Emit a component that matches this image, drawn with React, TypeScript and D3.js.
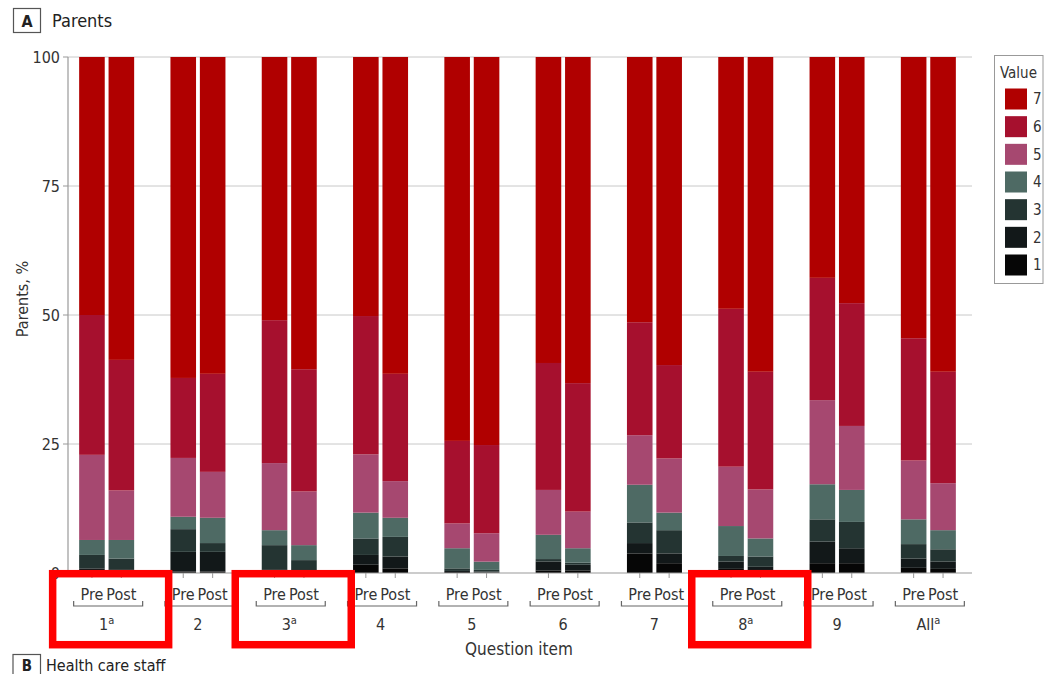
import React from "react";
import * as d3 from "d3";

const items = ["1", "2", "3", "4", "5", "6", "7", "8", "9", "All"];
const itemFootnote = ["a", "", "a", "", "", "", "", "a", "", "a"];
const phases = ["Pre", "Post"];
const levels = ["1", "2", "3", "4", "5", "6", "7"];
const highlighted = ["1", "3", "8"];
const yTicks = [0, 25, 50, 75, 100];

// Share of parents (%) giving each response value; order: 1 Pre, 1 Post, 2 Pre, 2 Post, ... All Pre, All Post
const value1 = [0.3, 0.2, 0.3, 0.3, 0.2, 0.1, 1.6, 0.9, 0.2, 0.1, 0.5, 0.5, 3.8, 1.9, 0.8, 0.4, 1.9, 1.9, 1.0, 0.8];
const value2 = [0.6, 0.4, 3.8, 3.8, 0.4, 0.2, 1.9, 2.3, 0.2, 0.2, 1.7, 1.1, 2.0, 1.9, 1.4, 0.8, 4.2, 2.9, 1.8, 1.4];
const value3 = [2.6, 2.2, 4.4, 1.7, 4.8, 2.2, 3.2, 3.8, 0.5, 0.3, 0.5, 0.4, 4.0, 4.5, 1.1, 2.0, 4.3, 5.1, 2.8, 2.4];
const value4 = [2.9, 3.6, 2.4, 4.9, 2.9, 2.9, 5.0, 3.7, 3.9, 1.6, 4.7, 2.8, 7.3, 3.4, 5.8, 3.5, 6.8, 6.2, 4.8, 3.7];
const value5 = [16.5, 9.6, 11.4, 8.9, 13.0, 10.4, 11.3, 7.1, 4.8, 5.5, 8.7, 7.1, 9.6, 10.5, 11.5, 9.5, 16.3, 12.4, 11.4, 9.1];
const value6 = [27.1, 25.3, 15.5, 19.0, 27.7, 23.7, 26.8, 20.8, 16.0, 17.1, 24.6, 24.9, 21.9, 18.1, 30.6, 22.8, 23.7, 23.8, 23.7, 21.6];
const value7 = [50.0, 58.7, 62.2, 61.4, 51.0, 60.5, 50.2, 61.4, 74.4, 75.2, 59.3, 63.2, 51.4, 59.7, 48.8, 61.0, 42.8, 47.7, 54.5, 61.0];

const levelColors = ["#060606", "#121819", "#243432", "#4e6a64", "#a64870", "#a6102e", "#b00000"];

const FONT = "'Liberation Sans Narrow', 'DejaVu Sans Condensed', 'Open Sans', sans-serif";

export default function App() {
  const W = 1046, H = 674;
  const plotLeft = 68, plotRight = 972, yTop = 57, yBottom = 573;
  const y = d3.scaleLinear().domain([0, 100]).range([yBottom, yTop]);
  const xGroup = d3.scaleBand<string>().domain(items).range([61, 974]);
  const pairWidth = 55;
  const xPhase = d3.scaleBand<string>().domain(phases).range([0, pairWidth]).paddingInner(0.13);
  const groupCenter = (it: string) => (xGroup(it) as number) + xGroup.bandwidth() / 2;
  const barX = (it: string, ph: string) => groupCenter(it) - pairWidth / 2 + (xPhase(ph) as number);

  const shares = [value1, value2, value3, value4, value5, value6, value7];
  const rows = items.flatMap((it, i) =>
    phases.map((ph, j) => {
      const k = i * 2 + j;
      const r: any = { item: it, phase: ph };
      levels.forEach((l, li) => (r[l] = shares[li][k]));
      return r;
    })
  );
  const series = d3.stack<any>().keys(levels)(rows);
  const color = d3.scaleOrdinal<string, string>().domain(levels).range(levelColors);

  const legendLevels = [...levels].reverse();
  const legendY = d3.scalePoint<string>().domain(legendLevels).range([99, 265]);

  return (
    <svg width={W} height={H} style={{ position: "fixed", left: 0, top: 0, background: "#fff" }} fontFamily={FONT}>
      <rect x={0} y={0} width={W} height={H} fill="#fff" />
      {/* panel header */}
      <rect x={13.5} y={8.5} width={27} height={24} fill="none" stroke="#555" strokeWidth={1.2} />
      <text x={27} y={26.5} textAnchor="middle" fontSize={16} fontWeight="bold" fill="#222">A</text>
      <text x={52} y={27} fontSize={18} fill="#222">Parents</text>

      {/* grid */}
      {yTicks.filter((t) => t > 0).map((t) => (
        <line key={"g" + t} x1={plotLeft} x2={plotRight} y1={y(t)} y2={y(t)} stroke="#c8c8c8" strokeWidth={1} />
      ))}

      {/* bars */}
      {series.map((s) => (
        <g key={s.key} fill={color(s.key)}>
          {s.map((d: any, i: number) => (
            <rect
              key={i}
              x={barX(d.data.item, d.data.phase)}
              width={xPhase.bandwidth()}
              y={y(d[1])}
              height={Math.max(0, y(d[0]) - y(d[1]))}
            />
          ))}
        </g>
      ))}

      {/* y axis */}
      <line x1={plotLeft} x2={plotLeft} y1={yTop} y2={yBottom} stroke="#999" strokeWidth={1.2} />
      {yTicks.map((t) => (
        <g key={"t" + t}>
          <line x1={plotLeft - 5} x2={plotLeft} y1={y(t)} y2={y(t)} stroke="#999" />
          <text x={plotLeft - 8} y={y(t)} dy="0.35em" textAnchor="end" fontSize={16} fill="#333">{t}</text>
        </g>
      ))}
      <text transform={`translate(22,299) rotate(-90)`} textAnchor="middle" dy="0.35em" fontSize={16} fill="#333">Parents, %</text>

      {/* x axis */}
      <line x1={plotLeft} x2={plotRight} y1={yBottom} y2={yBottom} stroke="#999" strokeWidth={1.2} />
      {items.map((it, i) => {
        const c = groupCenter(it);
        return (
          <g key={"x" + it}>
            {phases.map((ph) => {
              const bx = barX(it, ph) + xPhase.bandwidth() / 2;
              return (
                <g key={ph}>
                  <line x1={bx} x2={bx} y1={yBottom} y2={yBottom + 5} stroke="#999" />
                  <text x={bx} y={600} textAnchor="middle" fontSize={16} fill="#333">{ph}</text>
                </g>
              );
            })}
            <path d={`M${c - 33},${601} V${606} H${c + 36} V${601}`} fill="none" stroke="#666" strokeWidth={1.2} />
            <text x={c} y={630} textAnchor="middle" fontSize={16} fill="#333">
              {it}
              {itemFootnote[i] ? (
                <tspan fontSize={11} dy={-6}>{itemFootnote[i]}</tspan>
              ) : null}
            </text>
          </g>
        );
      })}
      <text x={519} y={655} textAnchor="middle" fontSize={17} fill="#333">Question item</text>

      {/* legend */}
      <rect x={994.5} y={55.5} width={48.5} height={228} fill="#fff" stroke="#999" />
      <text x={1000} y={78} fontSize={15} fill="#333">Value</text>
      {legendLevels.map((l) => (
        <g key={"l" + l}>
          <rect x={1005} y={(legendY(l) as number) - 10.5} width={22} height={21} fill={color(l)} />
          <text x={1033} y={legendY(l) as number} dy="0.35em" fontSize={15} fill="#333">{l}</text>
        </g>
      ))}

      {/* next panel header (cut off at page edge) */}
      <rect x={13} y={654.5} width={27.5} height={24} fill="none" stroke="#555" strokeWidth={1.2} />
      <text x={26.8} y={671} textAnchor="middle" fontSize={15} fontWeight="bold" fill="#222">B</text>
      <text x={46} y={671} fontSize={16} fill="#222">Health care staff</text>

      {/* highlight boxes */}
      {highlighted.map((it) => {
        const c = groupCenter(it) + 4;
        return (
          <rect key={"h" + it} x={c - 58} y={573.7} width={116} height={71} fill="none" stroke="#ff0000" strokeWidth={7.5} />
        );
      })}
    </svg>
  );
}
